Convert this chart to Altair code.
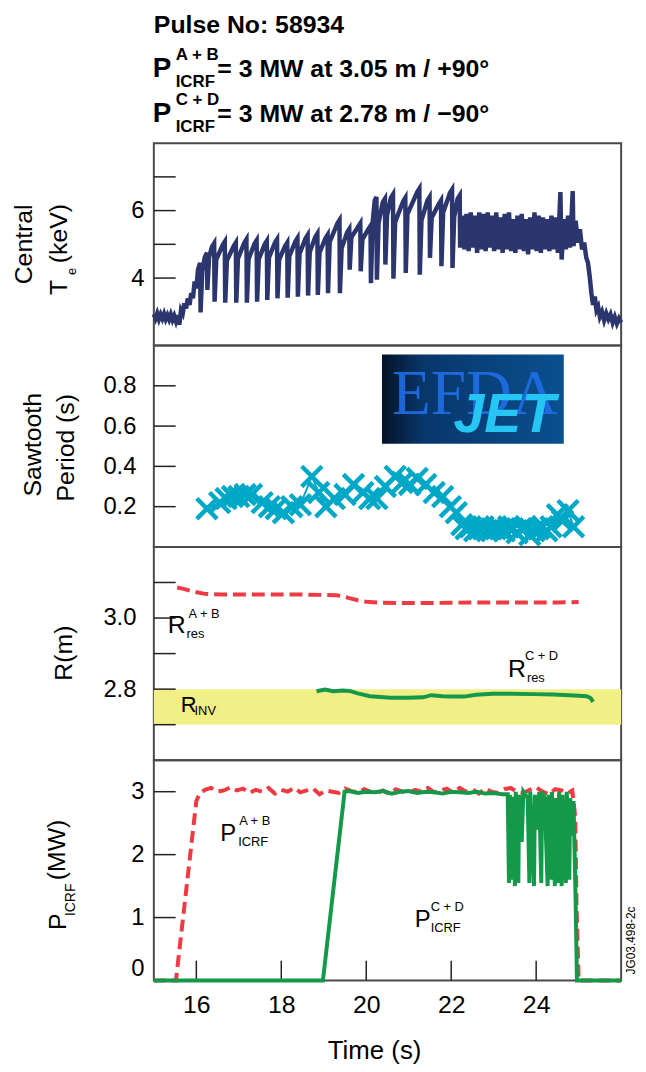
import altair as alt
import pandas as pd

FONT = "Liberation Sans"
NAVY = "#2b356e"
CYAN = "#00a8c8"
RED = "#ee3a43"
GREEN = "#14994a"
YELLOW = "#f2ef87"

T_DOMAIN = [15, 26]
W = 471
H_HEAD, H1, H2, H3, H4 = 131, 204, 203, 215, 222

# ---------------- header text ----------------
HEAD_LINE1 = "Pulse No: 58934"
HEAD_P = "P"
HEAD_SUP2, HEAD_SUB2, HEAD_MAIN2 = "A + B", "ICRF", "= 3 MW at 3.05 m / +90°"
HEAD_SUP3, HEAD_SUB3, HEAD_MAIN3 = "C + D", "ICRF", "= 3 MW at 2.78 m / −90°"

# ---------------- panel 1: central Te (keV) ----------------
TE = [
    (15.00, 2.93), (15.04, 2.80), (15.08, 2.95), (15.12, 2.78), (15.16, 2.92), (15.20, 2.80),
    (15.24, 2.94), (15.28, 2.78), (15.32, 2.90), (15.36, 2.77), (15.40, 2.92), (15.44, 2.76),
    (15.48, 2.88), (15.52, 2.72), (15.56, 2.90), (15.60, 2.62), (15.64, 3.05), (15.68, 2.95),
    (15.72, 3.25), (15.76, 3.10), (15.80, 3.40), (15.84, 3.20), (15.88, 3.55), (15.92, 3.40),
    (15.96, 3.90), (16.00, 3.70), (16.04, 4.25), (16.09, 4.45),
    (16.10, 2.98), (16.14, 4.20), (16.20, 4.62), (16.25, 4.75),
    (16.26, 3.65), (16.30, 4.62), (16.37, 4.93), (16.42, 5.03),
    (16.43, 3.30), (16.47, 4.55), (16.62, 4.98), (16.67, 5.08),
    (16.68, 3.27), (16.72, 4.52), (16.88, 4.95), (16.93, 5.05),
    (16.94, 3.27), (16.98, 4.58), (17.13, 5.05), (17.18, 5.15),
    (17.19, 3.27), (17.23, 4.57), (17.37, 5.02), (17.42, 5.12),
    (17.43, 3.30), (17.47, 4.56), (17.61, 5.00), (17.66, 5.10),
    (17.67, 3.35), (17.71, 4.61), (17.85, 5.05), (17.90, 5.15),
    (17.91, 3.40), (17.95, 4.55), (18.09, 4.95), (18.14, 5.05),
    (18.15, 3.42), (18.19, 4.65), (18.33, 5.08), (18.38, 5.18),
    (18.39, 3.45), (18.43, 4.72), (18.57, 5.17), (18.62, 5.27),
    (18.63, 3.48), (18.67, 4.77), (18.80, 5.22), (18.85, 5.32),
    (18.86, 3.50), (18.90, 4.75), (19.04, 5.18), (19.09, 5.28),
    (19.10, 3.55), (19.14, 5.07), (19.32, 5.62), (19.37, 5.72),
    (19.38, 3.55), (19.42, 4.88), (19.55, 5.35), (19.60, 5.45),
    (19.61, 4.25), (19.65, 5.21), (19.81, 5.52), (19.86, 5.62),
    (19.87, 4.20), (19.91, 5.15), (20.05, 5.45), (20.10, 5.55),
    (20.11, 3.85), (20.15, 5.64), (20.20, 6.30), (20.24, 6.40),
    (20.25, 3.95), (20.29, 5.63), (20.39, 6.25), (20.44, 6.35),
    (20.45, 4.40), (20.49, 5.86), (20.58, 6.38), (20.63, 6.48),
    (20.64, 3.98), (20.68, 5.66), (20.87, 6.28), (20.92, 6.38),
    (20.93, 4.15), (20.97, 5.90), (21.20, 6.55), (21.25, 6.65),
    (21.26, 4.10), (21.30, 5.71), (21.44, 6.30), (21.49, 6.40),
    (21.50, 4.60), (21.54, 5.79), (21.71, 6.20), (21.76, 6.30),
    (21.77, 4.35), (21.81, 5.94), (21.97, 6.52), (22.02, 6.62),
    (22.03, 4.30), (22.07, 5.81), (22.15, 6.35), (22.20, 6.45),
    (22.21, 4.90), (22.26, 5.85), (22.31, 4.85), (22.36, 5.90), (22.41, 4.80), (22.46, 5.95),
    (22.51, 4.90), (22.56, 5.85), (22.61, 4.75), (22.66, 5.95), (22.71, 4.85), (22.76, 5.90),
    (22.81, 4.80), (22.86, 5.95), (22.91, 4.90), (22.96, 5.85), (23.01, 4.80), (23.06, 5.95),
    (23.11, 4.85), (23.16, 5.80), (23.21, 4.75), (23.26, 5.90), (23.31, 4.85), (23.36, 5.95),
    (23.41, 4.80), (23.46, 5.75), (23.51, 4.75), (23.56, 5.85), (23.61, 4.85), (23.66, 5.90),
    (23.71, 4.80), (23.76, 5.75), (23.81, 4.70), (23.86, 5.80), (23.91, 4.85), (23.96, 5.95),
    (24.01, 4.80), (24.06, 5.85), (24.11, 4.75), (24.16, 5.80), (24.21, 4.85), (24.26, 5.75),
    (24.31, 4.80), (24.36, 5.85), (24.41, 4.85), (24.46, 5.80), (24.51, 4.75), (24.57, 6.55),
    (24.60, 4.55), (24.65, 5.75), (24.70, 4.85), (24.75, 5.85), (24.80, 4.90), (24.86, 6.58),
    (24.88, 4.95), (24.93, 5.70), (24.98, 5.05), (25.03, 5.45), (25.08, 4.85), (25.13, 5.05),
    (25.18, 4.60), (25.22, 4.45), (25.26, 4.05), (25.30, 3.55), (25.34, 3.20), (25.38, 3.45),
    (25.42, 3.05), (25.46, 3.15), (25.50, 2.85), (25.55, 3.00), (25.60, 2.75), (25.65, 2.95),
    (25.70, 2.78), (25.75, 2.92), (25.80, 2.68), (25.85, 2.85), (25.90, 2.65), (25.95, 2.80),
    (26.00, 2.68),
]
TE_TICKS = [4, 5, 6, 7]
TE_LABELS = [4, 6]

# ---------------- panel 2: sawtooth period (s) ----------------
ST = [
    (16.25, 0.19), (16.55, 0.22), (16.70, 0.24), (16.85, 0.25), (17.00, 0.25), (17.15, 0.26),
    (17.30, 0.26), (17.55, 0.22), (17.72, 0.20), (17.88, 0.19), (18.05, 0.17), (18.25, 0.20),
    (18.45, 0.21), (18.72, 0.35), (18.88, 0.27), (19.05, 0.20), (19.25, 0.24), (19.50, 0.26),
    (19.70, 0.31), (19.92, 0.27), (20.08, 0.24), (20.25, 0.24), (20.45, 0.30), (20.68, 0.35),
    (20.85, 0.32), (21.02, 0.31), (21.20, 0.34), (21.40, 0.31), (21.60, 0.27), (21.80, 0.25),
    (21.98, 0.20), (22.12, 0.17), (22.25, 0.11), (22.35, 0.09), (22.45, 0.10), (22.55, 0.08),
    (22.65, 0.09), (22.75, 0.10), (22.85, 0.08), (22.95, 0.09), (23.05, 0.10), (23.15, 0.09),
    (23.25, 0.08), (23.35, 0.10), (23.45, 0.09), (23.55, 0.07), (23.65, 0.09), (23.75, 0.10),
    (23.85, 0.06), (23.95, 0.08), (24.05, 0.09), (24.15, 0.10), (24.25, 0.08), (24.35, 0.10),
    (24.50, 0.16), (24.62, 0.13), (24.75, 0.18), (24.88, 0.10),
]
ST_TICKS = [0.2, 0.4, 0.6, 0.8]
LOGO_T = [20.37, 24.65]
LOGO_V = [0.512, 0.956]
LOGO_WORD1, LOGO_WORD2 = "EFDA", "JET"

# ---------------- panel 3: R (m) ----------------
RA = [
    (15.55, 3.086), (15.70, 3.082), (15.90, 3.075), (16.20, 3.068), (16.60, 3.066),
    (17.00, 3.066), (17.50, 3.066), (18.00, 3.066), (18.50, 3.066), (19.00, 3.065),
    (19.30, 3.064), (19.45, 3.061), (19.60, 3.056), (19.80, 3.050), (20.00, 3.046),
    (20.30, 3.043), (20.80, 3.042), (21.30, 3.042), (22.00, 3.043), (22.50, 3.044),
    (23.00, 3.044), (23.50, 3.044), (24.00, 3.044), (24.50, 3.044), (25.00, 3.045),
]
RC = [
    (18.83, 2.794), (19.03, 2.799), (19.22, 2.794), (19.45, 2.796), (19.61, 2.795),
    (19.80, 2.788), (20.09, 2.780), (20.57, 2.776), (21.00, 2.776), (21.34, 2.777),
    (21.53, 2.783), (21.80, 2.780), (22.01, 2.779), (22.30, 2.779), (22.59, 2.784),
    (22.98, 2.787), (23.40, 2.787), (23.94, 2.786), (24.40, 2.785), (24.90, 2.782),
    (25.19, 2.780), (25.28, 2.775), (25.34, 2.764),
]
INV_BAND = [2.7, 2.8]
R_TICKS = [2.7, 2.8, 2.9, 3.0, 3.1]
R_LABELS = [2.8, 3.0]

# ---------------- panel 4: P ICRF (MW) ----------------
PA = [
    (15.00, 0), (15.52, 0), (16.00, 2.85), (16.08, 2.97), (16.20, 3.03), (16.35, 3.06),
    (16.50, 3.00), (16.65, 3.02), (16.80, 3.07), (16.95, 3.02), (17.10, 3.05), (17.25, 2.98),
    (17.40, 3.03), (17.55, 3.00), (17.70, 3.06), (17.85, 2.97), (18.00, 3.03), (18.15, 3.00),
    (18.30, 3.06), (18.45, 2.99), (18.60, 3.02), (18.75, 3.05), (18.90, 2.96), (19.05, 3.02),
    (19.20, 3.00), (19.35, 2.98), (19.50, 3.05), (19.65, 3.01), (19.80, 2.99), (19.95, 3.04),
    (20.10, 3.00), (20.25, 2.98), (20.40, 3.02), (20.55, 2.96), (20.70, 3.04), (20.85, 3.00),
    (21.00, 2.98), (21.15, 3.03), (21.30, 3.00), (21.45, 3.06), (21.60, 2.99), (21.75, 3.02),
    (21.90, 3.05), (22.05, 2.98), (22.20, 3.06), (22.35, 3.00), (22.50, 3.04), (22.65, 2.97),
    (22.80, 3.05), (22.95, 3.00), (23.10, 2.98), (23.25, 3.04), (23.40, 3.06), (23.55, 3.00),
    (23.70, 2.98), (23.85, 3.03), (24.00, 3.07), (24.15, 3.00), (24.30, 2.96), (24.45, 3.04),
    (24.60, 3.02), (24.75, 2.98), (24.85, 3.02), (24.92, 2.60), (24.95, 1.20), (25.00, 0),
    (26.00, 0),
]
PC = [
    (15.00, 0), (18.98, 0), (19.49, 3.00), (19.60, 3.01), (19.80, 2.98), (20.00, 3.00),
    (20.20, 2.99), (20.40, 3.01), (20.60, 2.97), (20.80, 3.00), (21.00, 3.01), (21.20, 2.98),
    (21.40, 3.00), (21.60, 2.99), (21.80, 2.97), (22.00, 3.00), (22.20, 2.99), (22.40, 2.98),
    (22.60, 3.00), (22.80, 2.97), (23.00, 2.98), (23.20, 2.96), (23.33, 2.96), (23.36, 1.55),
    (23.38, 2.95), (23.42, 1.60), (23.45, 2.92), (23.50, 1.50), (23.52, 3.00), (23.58, 1.55),
    (23.60, 2.95), (23.66, 2.20), (23.70, 3.00), (23.80, 2.90), (23.84, 1.55), (23.86, 3.00),
    (23.95, 1.50), (23.97, 2.95), (24.05, 2.40), (24.07, 3.00), (24.12, 1.55), (24.14, 3.00),
    (24.20, 2.90), (24.27, 1.50), (24.29, 2.95), (24.35, 1.60), (24.37, 3.00), (24.44, 1.50),
    (24.46, 2.90), (24.52, 1.55), (24.54, 3.00), (24.60, 1.50), (24.62, 2.95), (24.70, 1.55),
    (24.72, 3.00), (24.78, 1.60), (24.80, 2.90), (24.85, 2.30), (24.88, 2.85), (24.93, 1.20),
    (24.96, 0), (26.00, 0),
]
P_TICKS = [1, 2, 3]
P_LABELS = [0, 1, 2, 3]
T_TICKS = [16, 18, 20, 22, 24]
X_TITLE = "Time (s)"
CODE = "JG03.498-2c"


def df(pairs):
    return pd.DataFrame(pairs, columns=["t", "v"])


ONE = pd.DataFrame({"k": [0]})


def txt(s, x, y, size, angle=0, align="left", baseline="alphabetic",
        weight="normal", color="black", font=FONT, style="normal", opacity=1):
    kw = dict(fontSize=size, align=align, baseline=baseline, font=font,
              fontWeight=weight, color=color, fontStyle=style, opacity=opacity)
    if angle:
        kw["angle"] = angle
    return alt.Chart(ONE).mark_text(**kw).encode(
        x=alt.value(x), y=alt.value(y), text=alt.value(s))


XS = alt.Scale(domain=T_DOMAIN, nice=False, zero=False)


def yaxis(values, pad, fmt=None, flush=False):
    kw = dict(values=values, ticks=False, domain=False, grid=False,
              labelPadding=pad, labelFontSize=24, labelFont=FONT,
              labelColor="black", title=None, labelFlush=flush)
    if fmt:
        kw["format"] = fmt
    return alt.Axis(**kw)


def yticks(values, scale, axis):
    return alt.Chart(pd.DataFrame({"v": values})).mark_rule(
        color="#222", strokeWidth=1.5).encode(
        x=alt.value(0), x2=alt.value(22),
        y=alt.Y("v:Q", scale=scale, axis=axis))


# ---------------- header ----------------
header = alt.layer(
    txt(HEAD_LINE1, 0, 20, 25, weight="bold"),
    txt(HEAD_P, -1, 64, 28, weight="bold"),
    txt(HEAD_SUP2, 22, 47, 17, weight="bold"),
    txt(HEAD_SUB2, 22, 74, 17, weight="bold"),
    txt(HEAD_MAIN2, 64, 64, 25, weight="bold"),
    txt(HEAD_P, -1, 110, 28, weight="bold"),
    txt(HEAD_SUP3, 22, 93, 17, weight="bold"),
    txt(HEAD_SUB3, 22, 120, 17, weight="bold"),
    txt(HEAD_MAIN3, 64, 110, 25, weight="bold"),
).properties(width=W, height=H_HEAD, view=alt.ViewBackground(stroke="transparent"))

# ---------------- panel 1 ----------------
Y1 = alt.Scale(domain=[2, 8], nice=False, zero=False)
AX1 = yaxis(TE_LABELS, 10)
p1 = alt.layer(
    alt.Chart(ONE).mark_rule(color="white", strokeWidth=1).encode(
        x=alt.value(-145), x2=alt.value(-144), y=alt.value(0)),
    yticks(TE_TICKS, Y1, AX1),
    alt.Chart(df(TE)).mark_line(color=NAVY, strokeWidth=4.5).encode(
        x=alt.X("t:Q", scale=XS, axis=None),
        y=alt.Y("v:Q", scale=Y1, axis=AX1)),
    txt("Central", -131, 102, 25, angle=270, align="center", baseline="middle"),
    txt("T", -88, 153, 25, angle=270),
    txt("e", -78, 133, 13, angle=270),
    txt("(keV)", -88, 121, 25, angle=270),
).properties(width=W, height=H1)

# ---------------- panel 2 ----------------
Y2 = alt.Scale(domain=[0, 1], nice=False, zero=False)
AX2 = yaxis(ST_TICKS, 18, fmt=".1f")
logo_df = pd.DataFrame({"t": [LOGO_T[0]], "t2": [LOGO_T[1]],
                        "v": [LOGO_V[0]], "v2": [LOGO_V[1]]})
grad = alt.LinearGradient(
    gradient="linear", x1=0, x2=1, y1=0, y2=0,
    stops=[alt.GradientStop(offset=0, color="#041226"),
           alt.GradientStop(offset=0.22, color="#08366a"),
           alt.GradientStop(offset=1, color="#0a5090")])
p2 = alt.layer(
    alt.Chart(logo_df).mark_rect(fill=grad).encode(
        x=alt.X("t:Q", scale=XS, axis=None), x2="t2:Q",
        y=alt.Y("v:Q", scale=Y2, axis=AX2), y2="v2:Q"),
    txt(LOGO_WORD1, 240, 69, 64, font="Liberation Serif", color="#1f6fe8", opacity=0.9),
    txt(LOGO_WORD2, 302, 87, 56, font=FONT, weight="bold", style="italic", color="#25c6f4"),
    yticks(ST_TICKS, Y2, AX2),
    alt.Chart(df(ST)).mark_line(color=CYAN, strokeWidth=2).encode(
        x=alt.X("t:Q", scale=XS, axis=None),
        y=alt.Y("v:Q", scale=Y2, axis=AX2)),
    alt.Chart(df(ST)).mark_point(shape="M-1,-1L1,1M-1,1L1,-1", size=420,
                                 strokeWidth=4.5, filled=False, color=CYAN,
                                 opacity=1).encode(
        x=alt.X("t:Q", scale=XS, axis=None),
        y=alt.Y("v:Q", scale=Y2, axis=AX2)),
    txt("Sawtooth", -122, 100, 25, angle=270, align="center", baseline="middle"),
    txt("Period (s)", -88, 103, 25, angle=270, align="center", baseline="middle"),
).properties(width=W, height=H2)

# ---------------- panel 3 ----------------
Y3 = alt.Scale(domain=[2.6, 3.2], nice=False, zero=False)
AX3 = yaxis(R_LABELS, 18, fmt=".1f")
band_df = pd.DataFrame({"t": [T_DOMAIN[0]], "t2": [T_DOMAIN[1]],
                        "v": [INV_BAND[0]], "v2": [INV_BAND[1]]})
p3 = alt.layer(
    alt.Chart(band_df).mark_rect(color=YELLOW).encode(
        x=alt.X("t:Q", scale=XS, axis=None), x2="t2:Q",
        y=alt.Y("v:Q", scale=Y3, axis=AX3), y2="v2:Q"),
    yticks(R_TICKS, Y3, AX3),
    alt.Chart(df(RA)).mark_line(color=RED, strokeWidth=4, strokeDash=[13, 6]).encode(
        x=alt.X("t:Q", scale=XS, axis=None),
        y=alt.Y("v:Q", scale=Y3, axis=AX3)),
    alt.Chart(df(RC)).mark_line(color=GREEN, strokeWidth=4).encode(
        x=alt.X("t:Q", scale=XS, axis=None),
        y=alt.Y("v:Q", scale=Y3, axis=AX3)),
    txt("R", 14, 87, 25),
    txt("A + B", 35, 72, 13),
    txt("res", 33, 92, 13),
    txt("R", 27, 166, 22),
    txt("INV", 41, 169, 13),
    txt("R", 357, 131, 25),
    txt("C + D", 374, 114, 13),
    txt("res", 376, 136, 13),
    txt("R(m)", -90, 107, 25, angle=270, align="center", baseline="middle"),
).properties(width=W, height=H3)

# ---------------- panel 4 ----------------
Y4 = alt.Scale(domain=[0, 3.5], nice=False, zero=False)
AX4 = yaxis(P_LABELS, 10, flush=True)
XAX4 = alt.Axis(values=T_TICKS, ticks=False, domain=False, grid=False,
                labelPadding=12, labelFontSize=25, labelFont=FONT,
                labelColor="black", title=X_TITLE, titleFont=FONT,
                titleFontSize=26, titleFontWeight="normal", titleColor="black",
                titleX=222, titleY=79, titleAlign="center",
                titleBaseline="alphabetic")
p4 = alt.layer(
    yticks(P_TICKS, Y4, AX4),
    alt.Chart(pd.DataFrame({"t": T_TICKS})).mark_rule(color="#222", strokeWidth=1.5).encode(
        x=alt.X("t:Q", scale=XS, axis=XAX4),
        y=alt.value(H4), y2=alt.value(H4 - 20)),
    alt.Chart(df(PA)).mark_line(color=RED, strokeWidth=4, strokeDash=[12, 6]).encode(
        x=alt.X("t:Q", scale=XS, axis=XAX4),
        y=alt.Y("v:Q", scale=Y4, axis=AX4)),
    alt.Chart(df(PC)).mark_line(color=GREEN, strokeWidth=4).encode(
        x=alt.X("t:Q", scale=XS, axis=XAX4),
        y=alt.Y("v:Q", scale=Y4, axis=AX4)),
    txt("P", 67, 81, 24),
    txt("A + B", 86, 65, 13),
    txt("ICRF", 85, 86, 13),
    txt("P", 263, 168, 24),
    txt("C + D", 279, 152, 13),
    txt("ICRF", 279, 173, 13),
    txt("P", -89, 171, 25, angle=270),
    txt("ICRF", -79, 157, 14, angle=270),
    txt("(MW)", -90, 121, 25, angle=270),
    txt(CODE, W + 10, 216, 12, angle=270, align="left", baseline="middle"),
).properties(width=W, height=H4)

chart = alt.vconcat(header, p1, p2, p3, p4, spacing=0, bounds="flush").properties(
    padding=0
).configure_view(stroke="#4a4a4a", strokeWidth=2)

chart.save("out.html", embed_options={"renderer": "svg", "actions": False})
